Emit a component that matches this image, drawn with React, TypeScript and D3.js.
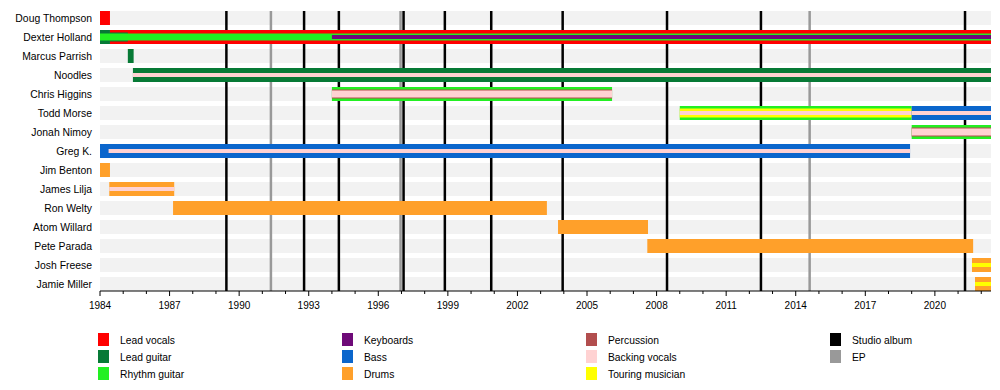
import * as d3 from "d3";

const NOW = 2022.42;

const members = [
  "Doug Thompson",
  "Dexter Holland",
  "Marcus Parrish",
  "Noodles",
  "Chris Higgins",
  "Todd Morse",
  "Jonah Nimoy",
  "Greg K.",
  "Jim Benton",
  "James Lilja",
  "Ron Welty",
  "Atom Willard",
  "Pete Parada",
  "Josh Freese",
  "Jamie Miller",
];

// member, role, from, to, stacking layer (0 = outermost)
const tenures: [string, string, number, number, number][] = [
  ["Doug Thompson", "Lead vocals", 1984, 1984.43, 0],
  ["Dexter Holland", "Lead guitar", 1984, 1984.43, 0],
  ["Dexter Holland", "Lead vocals", 1984.43, NOW, 0],
  ["Dexter Holland", "Lead guitar", 1984.43, 1985.2, 1],
  ["Dexter Holland", "Rhythm guitar", 1984, NOW, 2],
  ["Dexter Holland", "Keyboards", 1994.0, NOW, 3],
  ["Marcus Parrish", "Lead guitar", 1985.2, 1985.45, 0],
  ["Noodles", "Lead guitar", 1985.42, NOW, 0],
  ["Noodles", "Backing vocals", 1985.42, NOW, 3],
  ["Chris Higgins", "Rhythm guitar", 1994.0, 2006.08, 0],
  ["Chris Higgins", "Percussion", 1994.0, 2006.08, 1],
  ["Chris Higgins", "Backing vocals", 1994.0, 2006.08, 2],
  ["Todd Morse", "Rhythm guitar", 2009.0, 2019.0, 0],
  ["Todd Morse", "Touring musician", 2009.0, 2019.0, 1],
  ["Todd Morse", "Backing vocals", 2009.0, 2019.0, 3],
  ["Todd Morse", "Bass", 2019.0, NOW, 0],
  ["Todd Morse", "Backing vocals", 2019.0, NOW, 3],
  ["Jonah Nimoy", "Rhythm guitar", 2019.0, NOW, 0],
  ["Jonah Nimoy", "Percussion", 2019.0, NOW, 1],
  ["Jonah Nimoy", "Backing vocals", 2019.0, NOW, 2],
  ["Greg K.", "Bass", 1984, 2018.93, 0],
  ["Greg K.", "Backing vocals", 1984.37, 2018.93, 3],
  ["Jim Benton", "Drums", 1984, 1984.43, 0],
  ["James Lilja", "Drums", 1984.4, 1987.2, 0],
  ["James Lilja", "Backing vocals", 1984.4, 1987.2, 3],
  ["Ron Welty", "Drums", 1987.15, 2003.27, 0],
  ["Atom Willard", "Drums", 2003.75, 2007.63, 0],
  ["Pete Parada", "Drums", 2007.6, 2021.65, 0],
  ["Josh Freese", "Drums", 2021.6, NOW, 0],
  ["Josh Freese", "Touring musician", 2021.6, NOW, 3],
  ["Jamie Miller", "Drums", 2021.73, NOW, 0],
  ["Jamie Miller", "Touring musician", 2021.73, NOW, 3],
];

const studioAlbums = [1989.45, 1992.8, 1994.3, 1997.09, 1998.87, 2000.87, 2003.95, 2008.45, 2012.5, 2021.3];
const eps = [1991.37, 1996.96, 2014.6];

const tickLabels = [1984, 1987, 1990, 1993, 1996, 1999, 2002, 2005, 2008, 2011, 2014, 2017, 2020];

const legendColumns = [
  ["Lead vocals", "Lead guitar", "Rhythm guitar"],
  ["Keyboards", "Bass", "Drums"],
  ["Percussion", "Backing vocals", "Touring musician"],
  ["Studio album", "EP"],
];

const colors: Record<string, string> = {
  "Lead vocals": "#ff0000",
  "Lead guitar": "#077a36",
  "Rhythm guitar": "#22f022",
  Keyboards: "#6e0a78",
  Bass: "#0b66cc",
  Drums: "#ffa02a",
  Percussion: "#b24e4e",
  "Backing vocals": "#ffd2d2",
  "Touring musician": "#ffff00",
  "Studio album": "#000000",
  EP: "#999999",
};

const layerHeights = [14, 9, 7, 4];

const font = "'Liberation Sans', Arial, sans-serif";

export default function App() {
  const width = 1000;
  const height = 390;
  const left = 100;
  const right = 991;
  const top = 11;
  const axisY = 291;

  const x = d3.scaleLinear().domain([1984, NOW]).range([left, right]);
  const y = d3
    .scaleBand()
    .domain(members)
    .range([top, axisY])
    .paddingInner(5 / 19)
    .paddingOuter(0);
  const bw = y.bandwidth();

  const years = d3.range(1984, 2023);

  return (
    <svg
      width={width}
      height={height}
      style={{ position: "absolute", left: 0, top: 0, background: "white" }}
      fontFamily={font}
    >
      {/* row bands */}
      {members.map((m) => (
        <rect key={m} x={left} y={y(m)} width={right - left} height={bw} fill="#f2f2f2" />
      ))}

      {/* release markers */}
      {eps.map((d) => (
        <line key={"ep" + d} x1={x(d)} x2={x(d)} y1={top} y2={axisY} stroke={colors.EP} strokeWidth={2.5} />
      ))}
      {studioAlbums.map((d) => (
        <line key={"al" + d} x1={x(d)} x2={x(d)} y1={top} y2={axisY} stroke="#000" strokeWidth={2.5} />
      ))}

      {/* bars */}
      {tenures.map(([m, role, from, to, layer], i) => {
        const h = layerHeights[layer];
        const cy = (y(m) as number) + bw / 2;
        return (
          <rect
            key={i}
            x={x(from)}
            y={cy - h / 2}
            width={x(to) - x(from)}
            height={h}
            fill={colors[role]}
          />
        );
      })}

      {/* member names */}
      {members.map((m) => (
        <text
          key={"t" + m}
          x={92}
          y={(y(m) as number) + bw / 2}
          dy="0.35em"
          textAnchor="end"
          fontSize={10.4}
          fill="#000"
        >
          {m}
        </text>
      ))}

      {/* axis */}
      <line x1={left} x2={right} y1={axisY} y2={axisY} stroke="#000" strokeWidth={1} />
      {years.map((yr) => (
        <line
          key={"tk" + yr}
          x1={x(yr)}
          x2={x(yr)}
          y1={axisY}
          y2={axisY + (tickLabels.includes(yr) ? 5 : 3)}
          stroke="#000"
          strokeWidth={1}
        />
      ))}
      {tickLabels.map((yr) => (
        <text key={"yl" + yr} x={x(yr)} y={309} textAnchor="middle" fontSize={10} fill="#000">
          {yr}
        </text>
      ))}

      {/* legend */}
      {legendColumns.map((col, ci) =>
        col.map((item, ri) => {
          const lx = 98 + ci * 244;
          const ly = 340 + ri * 17;
          return (
            <g key={item}>
              <rect x={lx} y={ly - 7} width={11} height={13} fill={colors[item]} />
              <text x={lx + 22} y={ly} dy="0.35em" fontSize={10.3} fill="#000">
                {item}
              </text>
            </g>
          );
        })
      )}
    </svg>
  );
}
